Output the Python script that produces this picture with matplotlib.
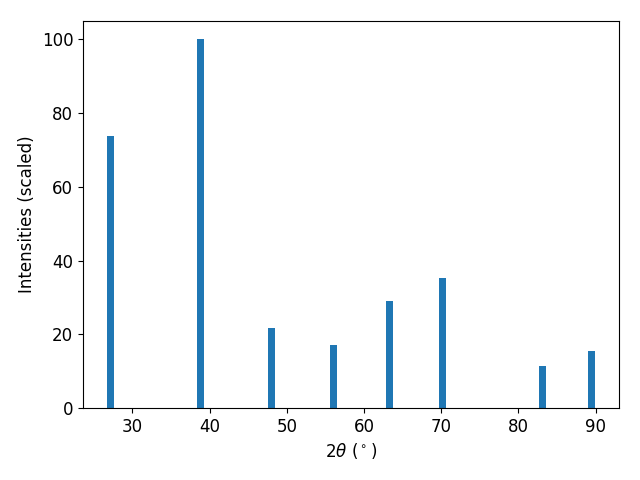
import matplotlib
matplotlib.use('Agg')
import matplotlib.pyplot as plt

# peak positions (2theta, degrees) and scaled intensities
two_theta = [27.15, 38.81, 48.01, 56.05, 63.30, 70.17, 83.13, 89.48]
intensities = [73.9, 100.0, 21.7, 17.1, 29.1, 35.3, 11.4, 15.5]

plt.rcParams.update({'font.size': 12})
fig, ax = plt.subplots(figsize=(6.4, 4.8), dpi=100)
ax.bar(two_theta, intensities, width=0.8, color='tab:blue')
ax.set_xlabel(r'2$\theta$ ($^\circ$)')
ax.set_ylabel('Intensities (scaled)')

fig.subplots_adjust(left=83 / 640, right=619 / 640, top=1 - 21 / 480, bottom=1 - 408 / 480)
fig.savefig('out.png', dpi=100)
